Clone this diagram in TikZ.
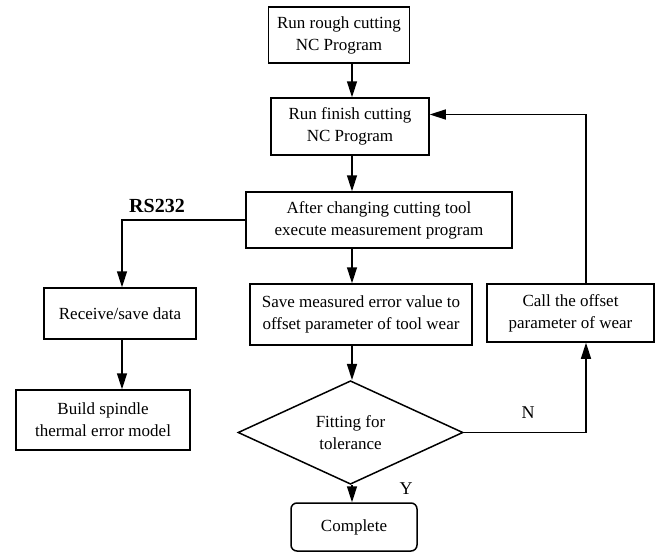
\documentclass[tikz,border=0pt]{standalone}
\usepackage{fontspec}
\setmainfont{Liberation Serif}
\usetikzlibrary{calc,shapes.geometric,arrows.meta}

\tikzset{
  box/.style={draw, line width=1.5pt, align=center, inner sep=0pt,
    font=\fontsize{17}{22}\selectfont},
  fleche/.style={-{Triangle[length=16pt,width=10pt]}, line width=1.5pt},
  lettre/.style={font=\fontsize{18}{20}\selectfont}
}

\begin{document}
\begin{tikzpicture}[x=1pt,y=-1pt]
                \useasboundingbox (0,0) rectangle (657,554);

                % colonne principale
                \coordinate (sp) at (352,0);
                \node[box, minimum width=141pt, minimum height=56pt] (rough) at (339,35) {Run rough cutting\\NC Program};
                \node[box, minimum width=158pt, minimum height=57pt] (finish) at (350,126.5) {Run finish cutting\\NC Program};
                \node[box, minimum width=266pt, minimum height=56pt] (measure) at (379,220) {After changing cutting tool\\execute measurement program};
                \node[box, minimum width=222pt, minimum height=61pt] (save) at (361,314.5) {Save measured error value to\\offset parameter of tool wear};
                \node[box, diamond, minimum width=225pt, minimum height=89pt] (fit) at (350.5,432.5) {Fitting for\\tolerance};
                \node[box, rounded corners=6pt, minimum width=126pt, minimum height=48pt] (done) at (354,527) {Complete};

                % branche gauche
                \coordinate (sg) at (122,0);
                \node[box, minimum width=152pt, minimum height=51pt] (receive) at (120,313.5) {Receive/save data};
                \node[box, minimum width=174pt, minimum height=60pt] (build) at (103,420) {Build spindle\\thermal error model};

                % branche droite
                \coordinate (sd) at (586,0);
                \node[box, minimum width=167pt, minimum height=58pt] (call) at (570.5,313) {Call the offset\\parameter of wear};

                % fleches
                \draw[fleche] (rough.south -| sp) -- (finish.north -| sp);
                \draw[fleche] (finish.south -| sp) -- (measure.north -| sp);
                \draw[fleche] (measure.south -| sp) -- (save.north -| sp);
                \draw[fleche] (save.south -| sp) -- (fit.north -| sp);
                \draw[fleche] (fit.south -| sp) -- (done.north -| sp);
                \draw[fleche] (measure.west) -- (measure.west -| sg) -- (receive.north -| sg);
                \draw[fleche] (receive.south -| sg) -- (build.north -| sg);
                \draw[fleche] (fit.east) -- (fit.east -| sd) -- (call.south -| sd);
                \coordinate (retour) at ($(finish.east)+(0,-12)$);
                \draw[fleche] (call.north -| sd) -- (retour -| sd) -- (retour);

                % textes
                \node[font=\fontsize{20}{24}\selectfont\bfseries] (rs) at (157,206) {RS232};
                \node[lettre] (non) at (528,413) {N};
                \node[lettre] (oui) at (406,489) {Y};
            \end{tikzpicture}
\end{document}
